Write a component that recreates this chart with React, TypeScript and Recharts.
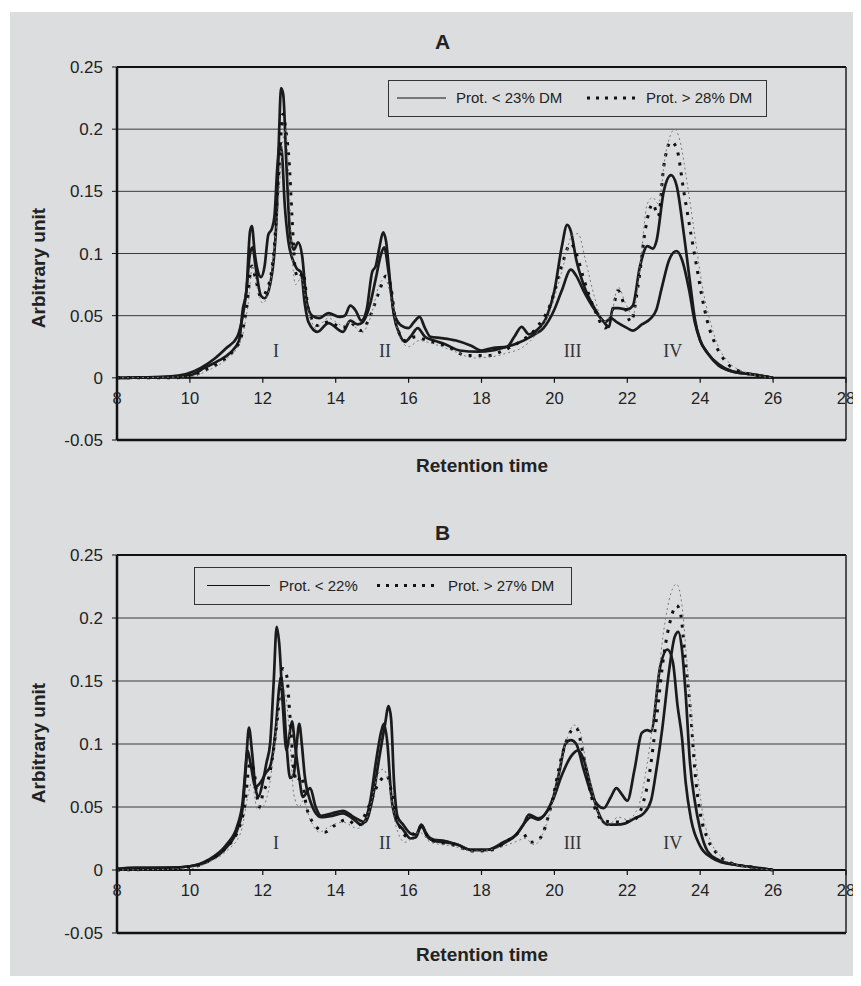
import React from 'react';
import { LineChart, Line, XAxis, YAxis, CartesianGrid, ReferenceLine, ReferenceDot } from 'recharts';

const xTicks = [8, 10, 12, 14, 16, 18, 20, 22, 24, 26, 28];
const yTicks = [-0.05, 0, 0.05, 0.1, 0.15, 0.2, 0.25];
const peakNames = ['I', 'II', 'III', 'IV'];
const peakTimes = [12.36, 15.35, 20.5, 23.25];

// chart A  [retention time, signal]
const aSolidHigh: [number, number][] = [
  [8, 0], [9.4, 0.001], [9.9, 0.003], [10.3, 0.008], [10.7, 0.016], [11.0, 0.024], [11.3, 0.033],
  [11.45, 0.05], [11.55, 0.07], [11.65, 0.1], [11.72, 0.105], [11.8, 0.09], [11.95, 0.066], [12.05, 0.064],
  [12.2, 0.075], [12.3, 0.095], [12.38, 0.13], [12.45, 0.2], [12.5, 0.233], [12.56, 0.228], [12.65, 0.17],
  [12.75, 0.115], [12.85, 0.103], [12.97, 0.109], [13.08, 0.098], [13.2, 0.062], [13.35, 0.05], [13.55, 0.048],
  [13.8, 0.052], [14.1, 0.049], [14.25, 0.05], [14.4, 0.058], [14.55, 0.054], [14.7, 0.046], [14.85, 0.055],
  [15.0, 0.085], [15.1, 0.09], [15.2, 0.105], [15.3, 0.117], [15.38, 0.11], [15.5, 0.075], [15.6, 0.052],
  [15.8, 0.042], [16.0, 0.04], [16.15, 0.045], [16.3, 0.049], [16.45, 0.04], [16.6, 0.033], [16.9, 0.032],
  [17.3, 0.03], [17.7, 0.026], [18.0, 0.022], [18.3, 0.024], [18.7, 0.025], [18.9, 0.033], [19.1, 0.041],
  [19.3, 0.035], [19.5, 0.038], [19.8, 0.05], [20.0, 0.07], [20.2, 0.105], [20.35, 0.123], [20.45, 0.118],
  [20.6, 0.095], [20.8, 0.075], [21.1, 0.056], [21.35, 0.045], [21.5, 0.041], [21.6, 0.056], [21.75, 0.056],
  [22.0, 0.055], [22.15, 0.058], [22.35, 0.09], [22.55, 0.106], [22.7, 0.104], [22.8, 0.11], [23.0, 0.15],
  [23.2, 0.163], [23.35, 0.155], [23.55, 0.116], [23.75, 0.07], [23.85, 0.048], [24.0, 0.03], [24.2, 0.02],
  [24.5, 0.01], [24.9, 0.005], [25.4, 0.003], [26.0, 0],
];
const aSolidLow: [number, number][] = [
  [8, 0], [9.5, 0.001], [10.0, 0.002], [10.4, 0.008], [10.8, 0.014], [11.1, 0.02], [11.35, 0.03],
  [11.45, 0.055], [11.55, 0.07], [11.65, 0.118], [11.7, 0.122], [11.78, 0.1], [11.88, 0.084], [11.95, 0.081],
  [12.05, 0.09], [12.15, 0.115], [12.25, 0.12], [12.32, 0.13], [12.4, 0.17], [12.46, 0.187], [12.52, 0.182],
  [12.6, 0.14], [12.7, 0.11], [12.82, 0.095], [12.93, 0.088], [13.05, 0.085], [13.15, 0.06], [13.25, 0.045],
  [13.5, 0.037], [13.8, 0.044], [14.2, 0.037], [14.4, 0.046], [14.6, 0.043], [14.75, 0.045], [14.95, 0.06],
  [15.1, 0.08], [15.25, 0.1], [15.33, 0.105], [15.45, 0.085], [15.6, 0.05], [15.75, 0.035], [15.9, 0.029],
  [16.05, 0.033], [16.25, 0.04], [16.45, 0.033], [16.7, 0.03], [17.0, 0.027], [17.4, 0.022], [17.9, 0.021],
  [18.3, 0.022], [18.7, 0.025], [19.0, 0.028], [19.4, 0.034], [19.7, 0.04], [20.0, 0.055], [20.2, 0.07],
  [20.45, 0.087], [20.6, 0.082], [20.8, 0.07], [21.1, 0.055], [21.4, 0.045], [21.55, 0.048], [21.7, 0.045],
  [22.0, 0.04], [22.15, 0.038], [22.4, 0.043], [22.65, 0.048], [22.8, 0.055], [22.95, 0.073], [23.15, 0.095],
  [23.35, 0.102], [23.5, 0.095], [23.7, 0.07], [23.85, 0.045], [24.0, 0.03], [24.2, 0.02], [24.5, 0.011],
  [24.9, 0.005], [25.4, 0.003], [26.0, 0],
];
const aDotted: [number, number][] = [
  [8, 0], [9.5, 0], [10.0, 0.001], [10.4, 0.006], [10.8, 0.012], [11.2, 0.022], [11.4, 0.032], [11.55, 0.055],
  [11.7, 0.09], [11.8, 0.08], [11.95, 0.065], [12.1, 0.07], [12.3, 0.1], [12.45, 0.17], [12.55, 0.212],
  [12.65, 0.195], [12.72, 0.175], [12.8, 0.13], [12.9, 0.085], [13.0, 0.08], [13.1, 0.085], [13.25, 0.055],
  [13.5, 0.042], [13.8, 0.045], [14.2, 0.04], [14.4, 0.044], [14.7, 0.038], [14.95, 0.05], [15.2, 0.07],
  [15.38, 0.082], [15.5, 0.075], [15.65, 0.045], [15.9, 0.03], [16.2, 0.033], [16.5, 0.03], [17.0, 0.026],
  [17.6, 0.018], [18.2, 0.018], [18.6, 0.022], [19.0, 0.028], [19.5, 0.04], [19.9, 0.06], [20.2, 0.09],
  [20.45, 0.108], [20.6, 0.1], [20.8, 0.08], [21.1, 0.055], [21.4, 0.04], [21.6, 0.055], [21.75, 0.07],
  [21.9, 0.06], [22.1, 0.045], [22.3, 0.075], [22.5, 0.12], [22.7, 0.14], [22.85, 0.13], [23.0, 0.17],
  [23.2, 0.19], [23.35, 0.185], [23.55, 0.15], [23.75, 0.115], [23.9, 0.09], [24.05, 0.065], [24.2, 0.045],
  [24.4, 0.028], [24.7, 0.013], [25.1, 0.005], [25.6, 0.002], [26.0, 0],
];
const aDottedGrey: [number, number][] = [
  [8, 0], [10.0, 0.001], [10.5, 0.006], [11.0, 0.015], [11.4, 0.03], [11.6, 0.06], [11.72, 0.09], [11.85, 0.072],
  [12.0, 0.06], [12.2, 0.075], [12.4, 0.13], [12.55, 0.19], [12.62, 0.2], [12.7, 0.17], [12.8, 0.1], [12.9, 0.075],
  [13.05, 0.08], [13.2, 0.06], [13.45, 0.04], [13.8, 0.048], [14.2, 0.042], [14.4, 0.045], [14.7, 0.036],
  [14.95, 0.048], [15.2, 0.075], [15.35, 0.08], [15.55, 0.06], [15.75, 0.033], [16.0, 0.025], [16.3, 0.03],
  [16.6, 0.028], [17.2, 0.022], [17.8, 0.016], [18.3, 0.017], [18.7, 0.02], [19.1, 0.024], [19.5, 0.035],
  [19.9, 0.055], [20.2, 0.085], [20.5, 0.115], [20.65, 0.116], [20.85, 0.095], [21.1, 0.065], [21.35, 0.045],
  [21.55, 0.05], [21.75, 0.073], [21.95, 0.06], [22.15, 0.05], [22.35, 0.09], [22.55, 0.14], [22.7, 0.145],
  [22.85, 0.14], [23.05, 0.18], [23.3, 0.2], [23.45, 0.19], [23.65, 0.155], [23.85, 0.115], [24.05, 0.075],
  [24.25, 0.048], [24.5, 0.025], [24.8, 0.012], [25.2, 0.005], [26.0, 0],
];

// chart B
const bSolidHigh: [number, number][] = [
  [8, 0.001], [8.5, 0.002], [9.5, 0.002], [10.0, 0.003], [10.5, 0.008], [11.0, 0.02], [11.3, 0.035],
  [11.45, 0.055], [11.55, 0.09], [11.62, 0.113], [11.7, 0.095], [11.8, 0.065], [11.88, 0.058], [12.0, 0.07],
  [12.1, 0.085], [12.2, 0.1], [12.3, 0.15], [12.38, 0.193], [12.45, 0.18], [12.55, 0.13], [12.65, 0.095],
  [12.72, 0.105], [12.8, 0.118], [12.88, 0.1], [12.98, 0.078], [13.1, 0.058], [13.3, 0.065], [13.45, 0.05],
  [13.6, 0.043], [13.9, 0.045], [14.2, 0.047], [14.5, 0.042], [14.8, 0.038], [15.0, 0.055], [15.2, 0.09],
  [15.35, 0.115], [15.45, 0.13], [15.52, 0.12], [15.6, 0.07], [15.7, 0.042], [15.85, 0.036], [16.05, 0.029],
  [16.2, 0.028], [16.35, 0.036], [16.5, 0.028], [16.7, 0.024], [17.0, 0.023], [17.35, 0.02], [17.7, 0.016],
  [18.15, 0.016], [18.6, 0.022], [18.95, 0.028], [19.15, 0.036], [19.3, 0.044], [19.55, 0.041], [19.95, 0.056],
  [20.15, 0.08], [20.3, 0.1], [20.45, 0.103], [20.6, 0.1], [20.8, 0.08], [21.05, 0.058], [21.35, 0.049],
  [21.55, 0.058], [21.7, 0.065], [21.85, 0.06], [22.0, 0.055], [22.2, 0.08], [22.4, 0.109], [22.55, 0.111],
  [22.65, 0.11], [22.9, 0.161], [23.1, 0.175], [23.25, 0.165], [23.38, 0.13], [23.5, 0.105], [23.6, 0.07],
  [23.75, 0.04], [24.0, 0.019], [24.3, 0.01], [24.6, 0.006], [25.0, 0.004], [25.5, 0.002], [26.0, 0],
];
const bSolidLow: [number, number][] = [
  [8, 0.001], [9.5, 0.002], [10.0, 0.003], [10.5, 0.007], [11.0, 0.018], [11.3, 0.032], [11.45, 0.05],
  [11.52, 0.075], [11.58, 0.095], [11.66, 0.085], [11.8, 0.066], [11.95, 0.07], [12.08, 0.077], [12.2, 0.082],
  [12.35, 0.11], [12.45, 0.145], [12.5, 0.153], [12.56, 0.14], [12.65, 0.1], [12.75, 0.073], [12.85, 0.076],
  [12.93, 0.1], [13.0, 0.116], [13.07, 0.1], [13.15, 0.075], [13.3, 0.055], [13.6, 0.042], [13.9, 0.043],
  [14.2, 0.045], [14.5, 0.04], [14.7, 0.036], [14.95, 0.055], [15.1, 0.085], [15.25, 0.11], [15.32, 0.116],
  [15.42, 0.1], [15.52, 0.06], [15.65, 0.04], [15.85, 0.032], [16.05, 0.025], [16.2, 0.026], [16.35, 0.035],
  [16.5, 0.027], [16.7, 0.023], [17.0, 0.022], [17.35, 0.02], [17.7, 0.016], [18.15, 0.016], [18.6, 0.021],
  [18.95, 0.028], [19.2, 0.038], [19.35, 0.042], [19.55, 0.04], [19.95, 0.055], [20.2, 0.075], [20.45, 0.09],
  [20.65, 0.095], [20.8, 0.088], [21.0, 0.066], [21.2, 0.046], [21.45, 0.036], [21.7, 0.036], [21.95, 0.037],
  [22.2, 0.041], [22.45, 0.045], [22.65, 0.055], [22.8, 0.08], [22.95, 0.11], [23.15, 0.159], [23.3, 0.185],
  [23.4, 0.189], [23.5, 0.175], [23.6, 0.14], [23.72, 0.085], [23.85, 0.055], [24.0, 0.032], [24.2, 0.015],
  [24.5, 0.008], [25.0, 0.004], [25.5, 0.002], [26.0, 0],
];
const bDotted: [number, number][] = [
  [8, 0], [10.0, 0.002], [10.5, 0.007], [11.0, 0.018], [11.3, 0.03], [11.5, 0.05], [11.65, 0.085],
  [11.75, 0.08], [11.9, 0.05], [12.0, 0.06], [12.2, 0.078], [12.4, 0.12], [12.55, 0.16], [12.65, 0.155],
  [12.75, 0.12], [12.85, 0.08], [12.95, 0.07], [13.05, 0.075], [13.2, 0.05], [13.45, 0.035], [13.7, 0.03],
  [14.0, 0.036], [14.3, 0.04], [14.6, 0.035], [14.9, 0.05], [15.2, 0.07], [15.4, 0.075], [15.55, 0.06],
  [15.75, 0.035], [16.0, 0.026], [16.35, 0.034], [16.6, 0.024], [17.2, 0.02], [17.8, 0.015], [18.3, 0.016],
  [18.8, 0.025], [19.1, 0.03], [19.35, 0.022], [19.6, 0.025], [19.9, 0.05], [20.2, 0.09], [20.45, 0.11],
  [20.6, 0.113], [20.8, 0.09], [21.0, 0.06], [21.3, 0.04], [21.6, 0.038], [21.9, 0.038], [22.2, 0.04],
  [22.4, 0.05], [22.6, 0.075], [22.8, 0.12], [23.0, 0.17], [23.2, 0.2], [23.35, 0.21], [23.45, 0.205],
  [23.6, 0.165], [23.75, 0.12], [23.85, 0.08], [24.0, 0.045], [24.2, 0.025], [24.5, 0.012], [24.9, 0.005],
  [25.5, 0.002], [26.0, 0],
];
const bDottedGrey: [number, number][] = [
  [8, 0], [10.0, 0.001], [10.5, 0.006], [11.0, 0.015], [11.4, 0.03], [11.6, 0.06], [11.7, 0.07], [11.85, 0.048],
  [12.0, 0.05], [12.2, 0.07], [12.4, 0.12], [12.52, 0.145], [12.62, 0.14], [12.75, 0.1], [12.85, 0.06],
  [13.0, 0.05], [13.1, 0.055], [13.3, 0.04], [13.55, 0.03], [13.8, 0.034], [14.2, 0.038], [14.6, 0.033],
  [14.9, 0.045], [15.15, 0.075], [15.3, 0.08], [15.45, 0.07], [15.65, 0.035], [15.9, 0.022], [16.3, 0.03],
  [16.6, 0.022], [17.2, 0.019], [17.8, 0.015], [18.4, 0.017], [18.9, 0.022], [19.2, 0.025], [19.45, 0.02],
  [19.7, 0.03], [20.0, 0.06], [20.3, 0.1], [20.55, 0.115], [20.7, 0.11], [20.9, 0.08], [21.15, 0.05],
  [21.45, 0.035], [21.75, 0.042], [22.0, 0.04], [22.3, 0.05], [22.55, 0.085], [22.8, 0.14], [23.0, 0.19],
  [23.2, 0.22], [23.35, 0.227], [23.5, 0.21], [23.65, 0.16], [23.8, 0.11], [23.95, 0.07], [24.1, 0.04],
  [24.3, 0.022], [24.6, 0.01], [25.0, 0.004], [26.0, 0],
];

const toRows = (pts: [number, number][]) => pts.map(([t, v]) => ({ t, v }));

const SANS = '"Liberation Sans", Arial, sans-serif';
const BG = '#dcdddf';

const makeXTick = (shift: number) => (props: any) => {
  const { x, y, payload } = props;
  const zy = y - shift;
  return (
    <g>
      <line x1={x} x2={x} y1={zy} y2={zy + 5} stroke="#111" strokeWidth={1.2} />
      <text x={x} y={zy + 26} textAnchor="middle" fill="#222" fontSize={16.5} fontFamily={SANS}>
        {payload.value}
      </text>
    </g>
  );
};

type PanelProps = {
  top: number;
  marginTop: number;
  marginBottom: number;
  series: [number, number][][];
};

function Panel({ top, marginTop, marginBottom, series }: PanelProps) {
  const height = 480;
  const plotH = height - marginTop - marginBottom - 30;
  const styles = [
    { stroke: '#1b1b1b', strokeWidth: 2.7, dash: undefined },
    { stroke: '#1b1b1b', strokeWidth: 2.7, dash: undefined },
    { stroke: '#111', strokeWidth: 3, dash: '3 7' },
    { stroke: '#7a7a7a', strokeWidth: 1, dash: '2 3' },
  ];
  return (
    <div style={{ position: 'absolute', left: 0, top }}>
      <LineChart width={853} height={height} margin={{ top: marginTop, right: 15, bottom: marginBottom, left: 49 }}>
        <CartesianGrid vertical={false} stroke="#3a3a3a" strokeWidth={1} />
        <XAxis
          dataKey="t"
          type="number"
          domain={[8, 28]}
          ticks={xTicks}
          allowDataOverflow
          height={30}
          tickSize={0}
          tickMargin={0}
          tickLine={false}
          axisLine={{ stroke: '#111', strokeWidth: 2.5 }}
          tick={makeXTick(plotH / 6)}
          interval={0}
        />
        <YAxis
          type="number"
          domain={[-0.05, 0.25]}
          ticks={yTicks}
          allowDataOverflow
          width={60}
          tickSize={5}
          tickMargin={9}
          interval={0}
          tickFormatter={(v: number) => String(v)}
          axisLine={{ stroke: '#111', strokeWidth: 2.5 }}
          tickLine={{ stroke: '#111' }}
          tick={{ fill: '#222', fontSize: 17, fontFamily: SANS }}
        />
        <ReferenceLine y={0} stroke="#111" strokeWidth={2} />
        <ReferenceLine y={0.25} stroke="#111" strokeWidth={2} />
        <ReferenceLine x={28} stroke="#222" strokeWidth={1.5} />
        {peakNames.map((name, i) => (
          <ReferenceDot
            key={name}
            x={peakTimes[i]}
            y={0.022}
            r={0}
            stroke="none"
            fill="none"
            label={{ value: name, position: 'center', fill: '#333', fontSize: 18, fontFamily: '"Liberation Serif", "Times New Roman", serif' }}
          />
        ))}
        {series.map((pts, i) => (
          <Line
            key={i}
            data={toRows(pts)}
            dataKey="v"
            type="monotone"
            dot={false}
            activeDot={false}
            stroke={styles[i].stroke}
            strokeWidth={styles[i].strokeWidth}
            strokeDasharray={styles[i].dash}
            isAnimationActive={false}
          />
        ))}
      </LineChart>
    </div>
  );
}

function LegendBox({ left, top, width, height, items }: any) {
  return (
    <div
      style={{
        position: 'absolute', left, top, width, height, boxSizing: 'border-box',
        border: '1.5px solid #333', background: BG, fontFamily: SANS, fontSize: 15, color: '#222',
      }}
    >
      {items.map((it: any, i: number) => (
        <React.Fragment key={i}>
          <svg style={{ position: 'absolute', left: it.lineX, top: 0 }} width={it.lineW} height={height - 3}>
            <line
              x1={0} x2={it.lineW} y1={(height - 3) / 2} y2={(height - 3) / 2}
              stroke="#111" strokeWidth={it.dashed ? 3 : 1.2} strokeDasharray={it.dashed ? '3 6' : undefined}
            />
          </svg>
          <div style={{ position: 'absolute', left: it.textX, top: 0, lineHeight: `${height - 3}px`, whiteSpace: 'nowrap' }}>
            {it.label}
          </div>
        </React.Fragment>
      ))}
    </div>
  );
}

const textBase: React.CSSProperties = { position: 'absolute', fontFamily: SANS, fontWeight: 'bold', color: '#222', whiteSpace: 'nowrap' };

export default function App() {
  return (
    <div style={{ position: 'relative', width: 853, height: 970 }}>
      <div style={{ position: 'absolute', left: 2, top: 4, width: 851, height: 964, background: BG }} />
      <Panel top={0} marginTop={59} marginBottom={18} series={[aSolidHigh, aSolidLow, aDotted, aDottedGrey]} />
      <Panel top={480} marginTop={67} marginBottom={5} series={[bSolidHigh, bSolidLow, bDotted, bDottedGrey]} />

      <div style={{ ...textBase, left: 427, top: 22, fontSize: 21, fontFamily: '"Liberation Sans Narrow", "Liberation Sans", sans-serif' }}>A</div>
      <div style={{ ...textBase, left: 427, top: 513, fontSize: 21, fontFamily: '"Liberation Sans Narrow", "Liberation Sans", sans-serif' }}>B</div>

      <div style={{ ...textBase, left: 474, top: 458, fontSize: 19, transform: 'translate(-50%, -50%)' }}>Retention time</div>
      <div style={{ ...textBase, left: 474, top: 947, fontSize: 19, transform: 'translate(-50%, -50%)' }}>Retention time</div>

      <div style={{ ...textBase, left: 31, top: 260, fontSize: 19, transform: 'translate(-50%, -50%) rotate(-90deg)' }}>Arbitrary unit</div>
      <div style={{ ...textBase, left: 31, top: 735, fontSize: 19, transform: 'translate(-50%, -50%) rotate(-90deg)' }}>Arbitrary unit</div>

      <LegendBox
        left={380} top={72} width={379} height={37}
        items={[
          { lineX: 8, lineW: 49, textX: 67, label: 'Prot. < 23% DM' },
          { lineX: 198, lineW: 52, textX: 257, label: 'Prot. > 28% DM', dashed: true },
        ]}
      />
      <LegendBox
        left={186} top={559} width={378} height={38}
        items={[
          { lineX: 12, lineW: 63, textX: 84, label: 'Prot. < 22%' },
          { lineX: 182, lineW: 60, textX: 253, label: 'Prot. > 27% DM', dashed: true },
        ]}
      />
    </div>
  );
}
